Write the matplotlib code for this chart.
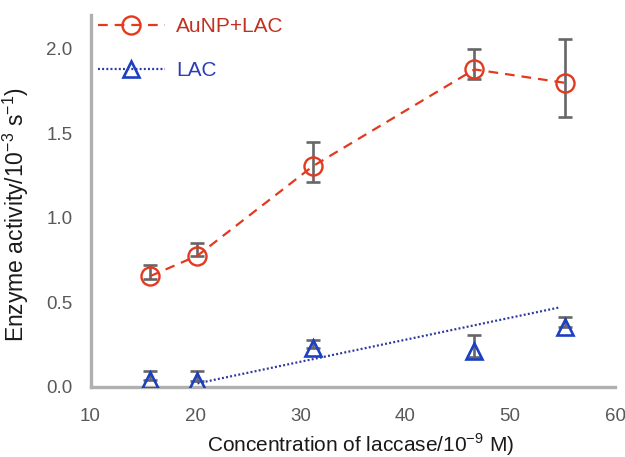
import matplotlib
matplotlib.use("Agg")
import matplotlib.pyplot as plt
from matplotlib.lines import Line2D

plt.rcParams['font.family'] = ['Liberation Sans', 'DejaVu Sans']
plt.rcParams['mathtext.fontset'] = 'custom'
plt.rcParams['mathtext.rm'] = 'Liberation Sans'
plt.rcParams['lines.scale_dashes'] = False

# Laccase concentration (10^-9 M)
conc = [15.7, 20.2, 31.2, 46.6, 55.2]

# Enzyme activity (10^-3 s^-1) with lower / upper deviations
aunp_lac = [0.654, 0.775, 1.304, 1.876, 1.797]
aunp_lac_err_low = [0.019, 0.005, 0.091, 0.059, 0.205]
aunp_lac_err_high = [0.065, 0.073, 0.140, 0.118, 0.256]
lac = [0.040, 0.034, 0.227, 0.211, 0.355]
lac_err_low = [0.0, 0.0, 0.0, 0.035, 0.0]
lac_err_high = [0.055, 0.057, 0.049, 0.095, 0.056]

# Linear trend for free laccase
trend_x = [20.2, 54.8]
trend_y = [0.02, 0.47]

x_ticks = [10, 20, 30, 40, 50, 60]
y_ticks = [0.0, 0.5, 1.0, 1.5, 2.0]
y_ticklabels = ['0.0', '0.5', '1.0', '1.5', '2.0']

RED = '#e2391f'
RED_TXT = '#c2301f'
BLUE = '#1c3fc4'
NAVY = '#2b3a9e'
GRAY = '#666666'

fig = plt.figure(figsize=(6.25, 4.57), dpi=100)
ax = fig.add_axes([0.1448, 0.1538, 0.984 - 0.1448, 0.968 - 0.1538])

# error bars sit behind the hollow markers
ax.errorbar(conc, aunp_lac, yerr=[aunp_lac_err_low, aunp_lac_err_high],
            fmt='none', ecolor=GRAY, elinewidth=1.9, capsize=4.7,
            capthick=1.9, zorder=2)
ax.errorbar(conc, lac, yerr=[lac_err_low, lac_err_high], fmt='none',
            ecolor=GRAY, elinewidth=1.9, capsize=4.7, capthick=1.9, zorder=2)

ax.plot(conc, aunp_lac, color=RED, lw=1.6, dashes=(7, 5), marker='o',
        markersize=13, markerfacecolor='none', markeredgecolor=RED,
        markeredgewidth=1.7, zorder=3)
ax.plot(conc, lac, linestyle='none', marker='^', markersize=12,
        markerfacecolor='none', markeredgecolor=BLUE, markeredgewidth=1.9,
        zorder=3)
ax.plot(trend_x, trend_y, color=NAVY, lw=1.6, dashes=(1.4, 1.6), zorder=2)

ax.set_xlim(10, 60)
ax.set_ylim(0, 2.2)
ax.set_xticks(x_ticks)
ax.set_yticks(y_ticks)
ax.set_yticklabels(y_ticklabels)
ax.tick_params(length=0, labelsize=13.5, colors='#595959')
ax.tick_params(axis='x', pad=15.5)
ax.tick_params(axis='y', pad=13)

for side in ('top', 'right'):
    ax.spines[side].set_visible(False)
for side in ('left', 'bottom'):
    ax.spines[side].set_color('#b0b0b0')
    ax.spines[side].set_linewidth(2.4)

ax.set_xlabel(r'Concentration of laccase/10$^{\mathregular{-9}}$ M)',
              fontsize=15, color='#1a1a1a')
ax.set_ylabel(r'Enzyme activity/10$^{\mathregular{-3}}$ s$^{\mathregular{-1}}$)',
              fontsize=16.5, color='#1a1a1a')
ax.xaxis.set_label_coords(0.5157, -0.121)
ax.yaxis.set_label_coords(-0.113, 0.463)

handles = [
    Line2D([], [], color=RED, lw=1.6, dashes=(7, 5), marker='o', markersize=13,
           markerfacecolor='none', markeredgecolor=RED, markeredgewidth=1.7),
    Line2D([], [], color=NAVY, lw=1.6, dashes=(1.4, 1.6), marker='^',
           markersize=12, markerfacecolor='none', markeredgecolor=BLUE,
           markeredgewidth=1.9),
]
leg = fig.legend(handles, ['AuNP+LAC', 'LAC'], loc='upper left',
                 bbox_to_anchor=(0.157, 0.963), frameon=False, borderpad=0,
                 borderaxespad=0, handlelength=3.2, handletextpad=0.55,
                 labelspacing=1.2, fontsize=15)
for txt, c in zip(leg.get_texts(), [RED_TXT, '#2b3db5']):
    txt.set_color(c)

fig.savefig('out.png', dpi=100)
